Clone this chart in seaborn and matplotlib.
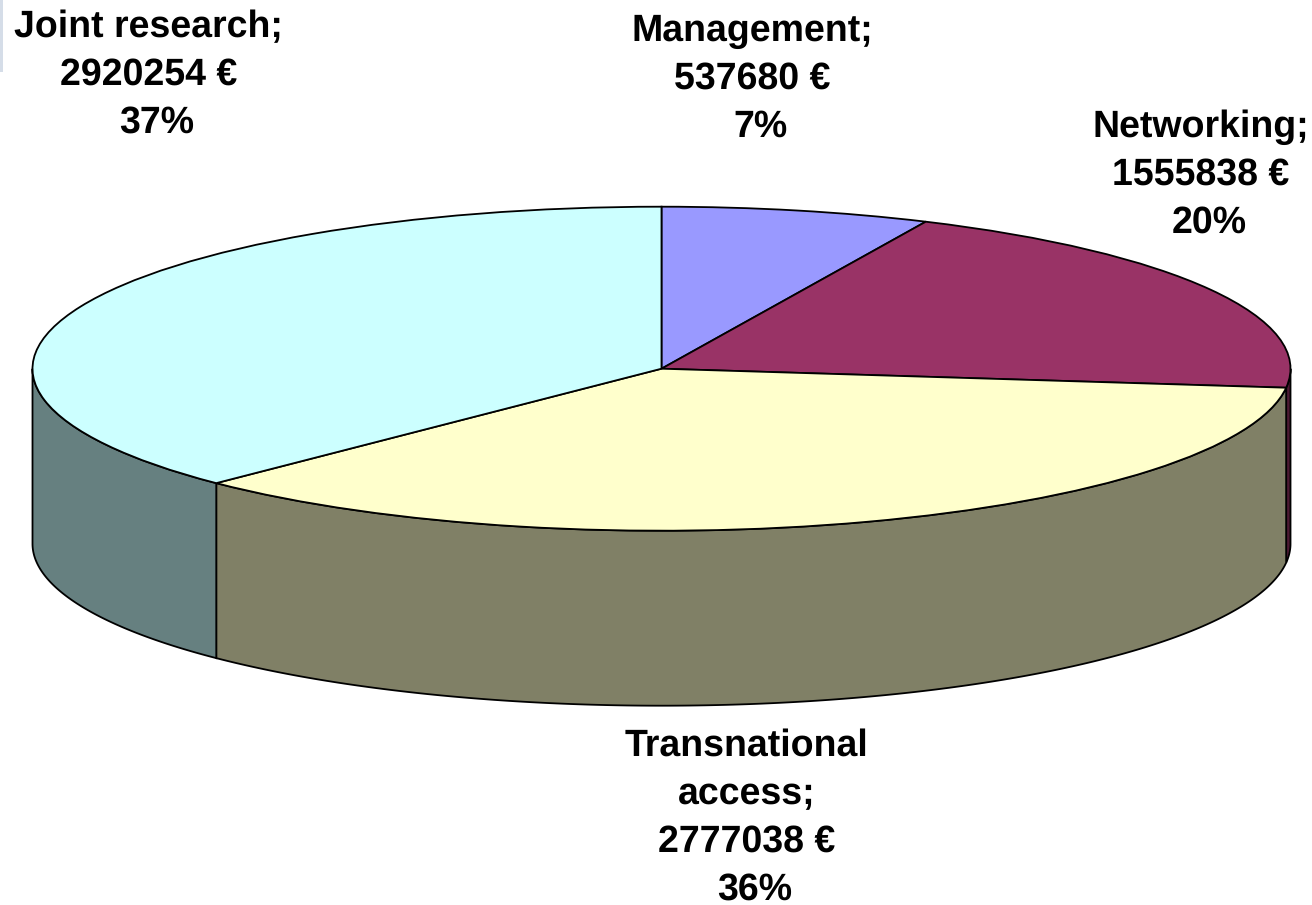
import numpy as np
import matplotlib
matplotlib.use("Agg")
import matplotlib.pyplot as plt
from matplotlib.colors import to_rgb
from matplotlib.patches import Rectangle
import seaborn as sns

categories = ["Management", "Networking", "Transnational access", "Joint research"]
budget = [537680, 1555838, 2777038, 2920254]
top_colors = ["#9999FF", "#993366", "#FFFFCC", "#CCFFFF"]

label_lines = [
    ["Management;", "537680 €", "7%"],
    ["Networking;", "1555838 €", "20%"],
    ["Transnational", "access;", "2777038 €", "36%"],
    ["Joint research;", "2920254 €", "37%"],
]
# centre x of the text block and first baseline, in pixels
label_x = [752, 1201, 746.5, 148.5]
label_y = [41, 137, 756, 37]
line_step = 48
percent_shift = 8

W, H = 1312, 905
cx, cy, rx, ry, depth = 661.5, 368.7, 629, 162, 175

sns.set_theme(style="white")
plt.rcParams["font.family"] = ["Liberation Sans", "DejaVu Sans"]
plt.rcParams["text.hinting"] = "no_hinting"

fig = plt.figure(figsize=(W / 100, H / 100), dpi=100)
ax = fig.add_axes([0, 0, 1, 1])

# top face
ax.pie(budget, colors=top_colors, startangle=90, counterclock=False,
       wedgeprops={"edgecolor": "black", "linewidth": 1.3, "zorder": 3})
ax.set_aspect("auto")
ax.set_xlim(-cx / rx, (W - cx) / rx)
ax.set_ylim((cy - H) / ry, cy / ry)

# side wall, only the front half of the disc shows
edges = np.cumsum([0] + budget) / sum(budget) * 360
thick = depth / ry
for i in range(len(budget)):
    a0 = max(edges[i], 90)
    a1 = min(edges[i + 1], 270)
    if a1 <= a0:
        continue
    t = np.radians(np.linspace(a0, a1, 200))
    xs = np.sin(t)
    ys = np.cos(t)
    side = np.array(to_rgb(top_colors[i])) * 0.5
    ax.fill(np.r_[xs, xs[::-1]], np.r_[ys, ys[::-1] - thick], facecolor=side,
            edgecolor="black", linewidth=1.3, zorder=2)

for lines, x, y in zip(label_lines, label_x, label_y):
    for j, line in enumerate(lines):
        shift = percent_shift if line.endswith("%") else 0
        fig.text((x + shift) / W, 1 - (y + j * line_step) / H, line, ha="center", va="baseline",
                 fontsize=27, fontweight="bold", color="black")

# sliver of the slide background left at the top left corner
fig.add_artist(Rectangle((0, 1 - 72 / H), 3 / W, 72 / H, transform=fig.transFigure,
                         facecolor="#D5DDE8", edgecolor="none"))

fig.savefig("out.png", dpi=100)
